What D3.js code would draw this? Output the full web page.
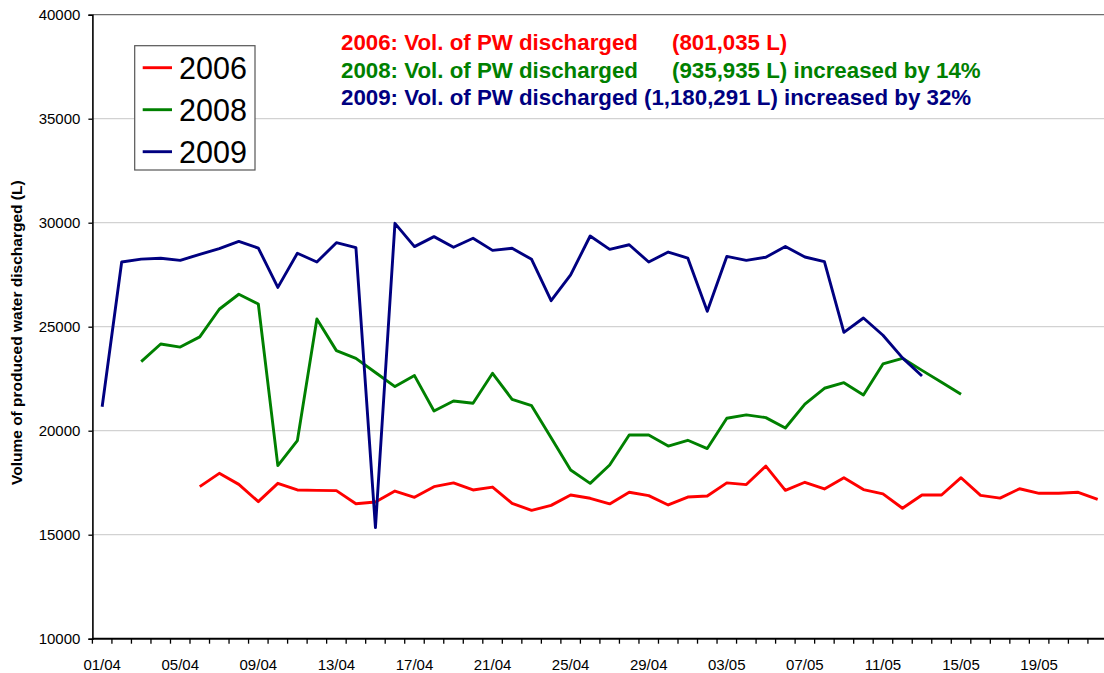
<!DOCTYPE html>
<html>
<head>
<meta charset="utf-8">
<script src="https://cdn.jsdelivr.net/npm/d3@7"></script>
<style>
  html, body { margin: 0; padding: 0; background: #ffffff; }
  svg { display: block; font-family: "Liberation Sans", Arial, sans-serif; }
</style>
</head>
<body>
<svg id="chart" width="1104" height="673"></svg>
<script>
// Daily categories on the x axis (01/04 .. 22/05)
const categories = [
  "01/04","02/04","03/04","04/04","05/04","06/04","07/04","08/04","09/04","10/04",
  "11/04","12/04","13/04","14/04","15/04","16/04","17/04","18/04","19/04","20/04",
  "21/04","22/04","23/04","24/04","25/04","26/04","27/04","28/04","29/04","30/04",
  "01/05","02/05","03/05","04/05","05/05","06/05","07/05","08/05","09/05","10/05",
  "11/05","12/05","13/05","14/05","15/05","16/05","17/05","18/05","19/05","20/05",
  "21/05","22/05"
];
const xTickLabels = ["01/04","05/04","09/04","13/04","17/04","21/04","25/04","29/04","03/05","07/05","11/05","15/05","19/05"];
const yTicks = [10000, 15000, 20000, 25000, 30000, 35000, 40000];

// Daily volume of produced water discharged (L)
const start2006 = "06/04";
const values2006 = [
  17310, 17950, 17420, 16590, 17470, 17150, 17130, 17120, 16490, 16570,
  17100, 16800, 17310, 17490, 17150, 17290, 16510, 16170, 16410, 16910,
  16750, 16480, 17040, 16880, 16430, 16810, 16860, 17490, 17410, 18300,
  17130, 17520, 17200, 17740, 17170, 16960, 16270, 16910, 16910, 17740,
  16890, 16760, 17210, 16990, 16990, 17040, 16700
];
const start2008 = "03/04";
const values2008 = [
  23320, 24170, 24020, 24510, 25840, 26560, 26090, 18320, 19520, 25370,
  23850, 23480, 22800, 22120, 22650, 20950, 21430, 21320, 22760, 21510,
  21200, 19660, 18110, 17470, 18350, 19790, 19790, 19260, 19540, 19140,
  20600, 20760, 20630, 20130, 21280, 22040, 22310, 21720, 23210, 23480,
  22900, 22330, 21750
];
const start2009 = "01/04";
const values2009 = [
  21150, 28110, 28250, 28290, 28190, 28480, 28750, 29100, 28780, 26890,
  28530, 28110, 29040, 28800, 15340, 29970, 28850, 29330, 28820, 29250,
  28670, 28770, 28240, 26250, 27490, 29360, 28720, 28940, 28110, 28590,
  28300, 25740, 28380, 28190, 28340, 28860, 28350, 28130, 24730, 25420,
  24590, 23500, 22630
];

const seriesNames = ["2006", "2008", "2009"];
const seriesColors = ["#ff0000", "#008000", "#000080"];
const seriesStarts = [start2006, start2008, start2009];
const seriesValues = [values2006, values2008, values2009];

const summaryLead = ["2006: Vol. of PW discharged", "2008: Vol. of PW discharged", "2009: Vol. of PW discharged"];
const summaryTotal = ["(801,035 L)", "(935,935 L) increased by 14%", "(1,180,291 L) increased by 32%"];

const yTitle = "Volume of produced water discharged (L)";

// ---- layout ----
const svg = d3.select("#chart");
const plotLeft = 92.4, bandW = 19.52;
const plotRight = plotLeft + categories.length * bandW;
const plotTop = 14.7, plotBottom = 638.7;

const x = d3.scaleBand().domain(categories).range([plotLeft, plotRight]).padding(0);
const y = d3.scaleLinear().domain([10000, 40000]).range([plotBottom, plotTop]);

svg.append("rect").attr("width", 1104).attr("height", 673).attr("fill", "#fff");

// horizontal gridlines
svg.append("g").selectAll("line")
  .data(yTicks.filter(v => v > 10000 && v < 40000))
  .join("line")
  .attr("x1", plotLeft).attr("x2", plotRight)
  .attr("y1", d => y(d)).attr("y2", d => y(d))
  .attr("stroke", "#d2d2d2").attr("stroke-width", 1.3);

// top border of the plot area
svg.append("line")
  .attr("x1", plotLeft).attr("x2", plotRight)
  .attr("y1", y(40000)).attr("y2", y(40000))
  .attr("stroke", "#6e6e6e").attr("stroke-width", 1.3);

// y axis
const yAxis = d3.axisLeft(y).tickValues(yTicks).tickSize(4).tickPadding(8).tickFormat(d3.format("d"));
const gy = svg.append("g").attr("transform", `translate(${plotLeft},0)`).call(yAxis);
gy.select(".domain").attr("stroke", "#000").attr("stroke-width", 1.6);
gy.selectAll(".tick line").attr("stroke", "#000").attr("stroke-width", 1.3);
gy.selectAll(".tick text").attr("font-size", 15).attr("fill", "#000")
  .attr("font-family", "Liberation Sans, Arial, sans-serif");

// x axis: a tick at every category boundary, label centred on every 4th category
const xAxisG = svg.append("g").attr("transform", `translate(0,${plotBottom})`);
const boundaries = d3.range(categories.length + 1).map(i => plotLeft + i * x.bandwidth());
xAxisG.selectAll("line.tk").data(boundaries).join("line")
  .attr("class", "tk")
  .attr("x1", d => d).attr("x2", d => d)
  .attr("y1", 0).attr("y2", 5)
  .attr("stroke", "#000").attr("stroke-width", 1.3);
xAxisG.append("line")
  .attr("x1", plotLeft).attr("x2", plotRight).attr("y1", 0).attr("y2", 0)
  .attr("stroke", "#000").attr("stroke-width", 2);
xAxisG.selectAll("text").data(xTickLabels).join("text")
  .attr("x", d => x(d) + x.bandwidth() / 2)
  .attr("y", 31.5)
  .attr("text-anchor", "middle")
  .attr("font-size", 15)
  .attr("fill", "#000")
  .text(d => d);

// y axis title
svg.append("text")
  .attr("transform", `translate(22,${(plotTop + plotBottom) / 2 + 6}) rotate(-90)`)
  .attr("text-anchor", "middle")
  .attr("font-size", 15.5)
  .attr("font-weight", "bold")
  .attr("fill", "#000")
  .text(yTitle);

// series lines
const line = d3.line().x(d => x(d.c) + x.bandwidth() / 2).y(d => y(d.v));
seriesNames.forEach((name, s) => {
  const i0 = categories.indexOf(seriesStarts[s]);
  const pts = seriesValues[s].map((v, k) => ({ c: categories[i0 + k], v }));
  svg.append("path")
    .datum(pts)
    .attr("d", line)
    .attr("fill", "none")
    .attr("stroke", seriesColors[s])
    .attr("stroke-width", 2.9)
    .attr("stroke-linejoin", "round");
});

// legend
const lg = svg.append("g");
lg.append("rect")
  .attr("x", 134.7).attr("y", 45.7).attr("width", 120.3).attr("height", 124.3)
  .attr("fill", "#fff").attr("stroke", "#555").attr("stroke-width", 1.2);
seriesNames.forEach((name, s) => {
  const cy = 67.7 + s * 42;
  lg.append("line")
    .attr("x1", 142.7).attr("x2", 172).attr("y1", cy).attr("y2", cy)
    .attr("stroke", seriesColors[s]).attr("stroke-width", 2.9);
  lg.append("text")
    .attr("x", 179).attr("y", cy + 10.8)
    .attr("font-size", 30.5).attr("fill", "#000")
    .text(name);
});

// summary annotation
const notes = svg.append("g").attr("font-weight", "bold").attr("font-size", 22.3);
summaryLead.forEach((lead, s) => {
  const t = notes.append("text")
    .attr("x", 341).attr("y", 50 + s * 27.5)
    .attr("fill", seriesColors[s]);
  t.append("tspan").text(lead);
  const tot = t.append("tspan").text(summaryTotal[s]);
  if (s < 2) tot.attr("x", 672); else tot.attr("dx", 6);
});
</script>
</body>
</html>
